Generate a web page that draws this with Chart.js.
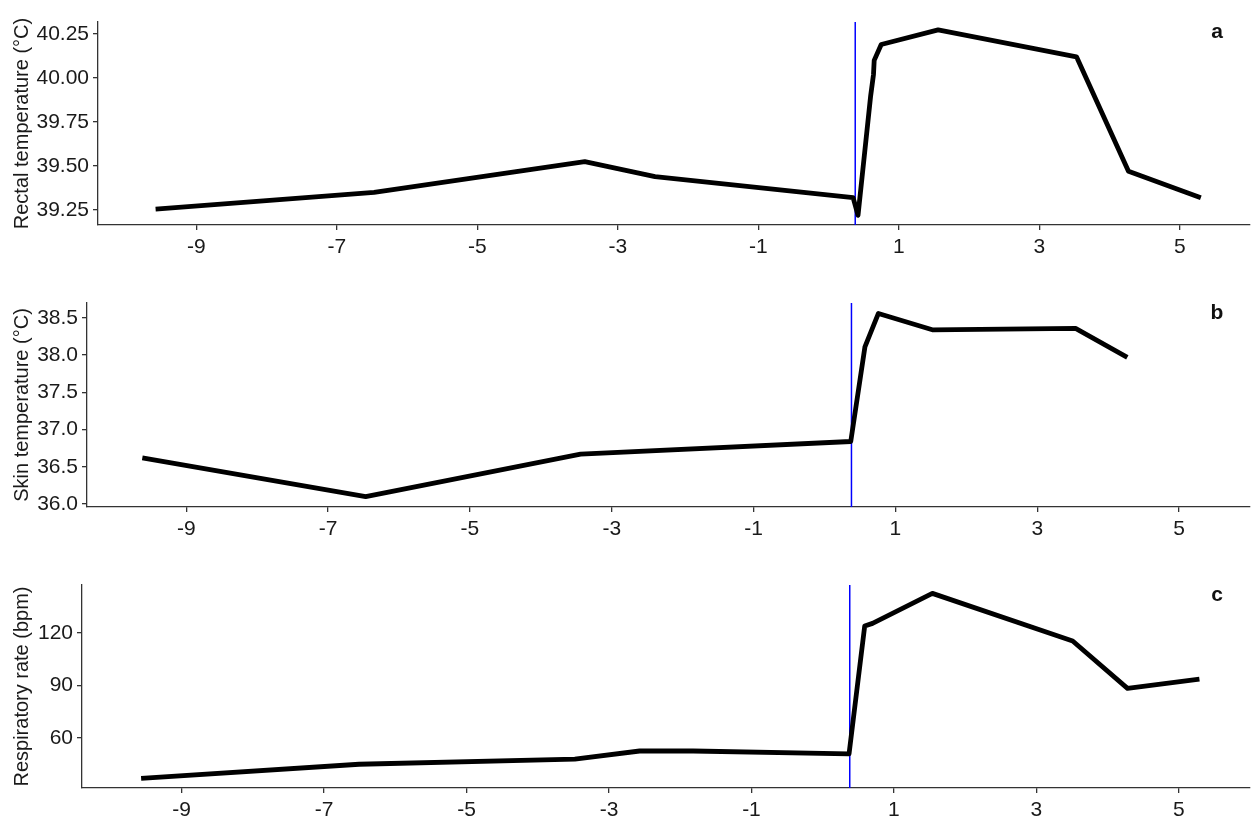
<!DOCTYPE html>
<html>
<head>
<meta charset="utf-8">
<script src="https://cdn.jsdelivr.net/npm/chart.js@4.4.1/dist/chart.umd.min.js"></script>
<style>
  html, body { margin: 0; padding: 0; background: #fff; width: 1252px; height: 818px; overflow: hidden; }
  .panel { position: absolute; left: 0; width: 1252px; }
  canvas { display: block; }
</style>
</head>
<body>
<div class="panel" id="pa" style="top:0px;height:272px;"><canvas id="ca"></canvas></div>
<div class="panel" id="pb" style="top:281px;height:272px;"><canvas id="cb"></canvas></div>
<div class="panel" id="pc" style="top:563px;height:255px;"><canvas id="cc"></canvas></div>
<script>
// ---- data (hours relative to event) ----
const eventTime = 0.38;
const xTicks = [-9, -7, -5, -3, -1, 1, 3, 5];

const rectalTime = [-9.58, -6.47, -3.47, -2.47, 0.35, 0.42, 0.60, 0.61, 0.64, 0.65, 0.75, 1.56, 3.53, 4.27, 5.30];
const rectalTemp = [39.255, 39.35, 39.525, 39.44, 39.32, 39.22, 39.90, 39.93, 40.02, 40.10, 40.19, 40.273, 40.12, 39.47, 39.32];
const rectalTicks = [39.25, 39.50, 39.75, 40.00, 40.25];

const skinTime = [-9.62, -6.47, -3.44, 0.37, 0.57, 0.76, 1.52, 3.54, 4.27];
const skinTemp = [36.62, 36.10, 36.67, 36.84, 38.11, 38.56, 38.34, 38.36, 37.97];
const skinTicks = [36.0, 36.5, 37.0, 37.5, 38.0, 38.5];

const respTime = [-9.57, -6.51, -3.48, -2.57, -1.82, 0.37, 0.59, 0.70, 1.54, 3.51, 4.28, 5.29];
const respRate = [36.7, 44.8, 47.8, 52.4, 52.4, 50.7, 124.0, 125.5, 142.7, 115.4, 88.3, 93.6];
const respTicks = [60, 90, 120];

const FONT = '"Liberation Sans", Arial, Helvetica, sans-serif';
const AXIS = '#333333';
const TEXT = '#1a1a1a';

const panelLabel = {
  id: 'panelLabel',
  afterDraw(chart, args, opts) {
    const ctx = chart.ctx;
    ctx.save();
    ctx.font = 'bold 21px ' + FONT;
    ctx.fillStyle = '#111';
    ctx.textAlign = 'center';
    ctx.textBaseline = 'middle';
    ctx.fillText(opts.text, opts.x, chart.chartArea.top + opts.dy);
    ctx.restore();
  }
};

function makeChart(id, xs, ys, yTicks, yMin, yMax, decimals, title, leftW, xAxisH, label) {
  const pts = xs.map((x, i) => ({ x: x, y: ys[i] }));
  const vline = [{ x: eventTime, y: yMin }, { x: eventTime, y: yMax }];
  return new Chart(document.getElementById(id), {
    type: 'scatter',
    data: {
      datasets: [
        { data: vline, showLine: true, borderColor: '#0000ff', borderWidth: 1.5, pointRadius: 0, order: 2 },
        { data: pts, showLine: true, borderColor: '#000', borderWidth: 4.8, pointRadius: 0, borderJoinStyle: 'round', borderCapStyle: 'butt', tension: 0, order: 1 }
      ]
    },
    options: {
      responsive: true,
      maintainAspectRatio: false,
      animation: false,
      events: [],
      layout: { padding: { top: 22, right: 2, left: 0, bottom: 0 } },
      plugins: { legend: { display: false }, tooltip: { enabled: false }, panelLabel: { text: label, x: 1217, dy: 10 } },
      scales: {
        x: {
          type: 'linear', min: -10.4, max: 6.0,
          afterBuildTicks: (s) => { s.ticks = xTicks.map(v => ({ value: v })); },
          afterFit: (s) => { s.height = xAxisH; },
          border: { display: true, color: AXIS, width: 1.3 },
          grid: { display: true, drawOnChartArea: false, drawTicks: true, tickLength: 5, color: AXIS, lineWidth: 1.3 },
          ticks: { color: TEXT, font: { family: FONT, size: 21 }, padding: 5, maxRotation: 0, autoSkip: false,
                   callback: (v) => String(v) }
        },
        y: {
          type: 'linear', min: yMin, max: yMax,
          afterBuildTicks: (s) => { s.ticks = yTicks.map(v => ({ value: v })); },
          afterFit: (s) => { s.width = leftW; },
          border: { display: true, color: AXIS, width: 1.3 },
          grid: { display: true, drawOnChartArea: false, drawTicks: true, tickLength: 5, color: AXIS, lineWidth: 1.3 },
          ticks: { color: TEXT, font: { family: FONT, size: 21 }, padding: 4, autoSkip: false,
                   callback: (v) => Number(v).toFixed(decimals) },
          title: { display: true, text: title, color: TEXT, font: { family: FONT, size: 20 }, padding: { top: 10, bottom: 0 } }
        }
      }
    },
    plugins: [panelLabel]
  });
}

makeChart('ca', rectalTime, rectalTemp, rectalTicks, 39.165, 40.318, 2, 'Rectal temperature (°C)', 98, 47, 'a');
makeChart('cb', skinTime, skinTemp, skinTicks, 35.96, 38.70, 1, 'Skin temperature (°C)', 87, 46, 'b');
makeChart('cc', respTime, respRate, respTicks, 31.2, 147.5, 0, 'Respiratory rate (bpm)', 82, 30, 'c');
</script>
</body>
</html>
